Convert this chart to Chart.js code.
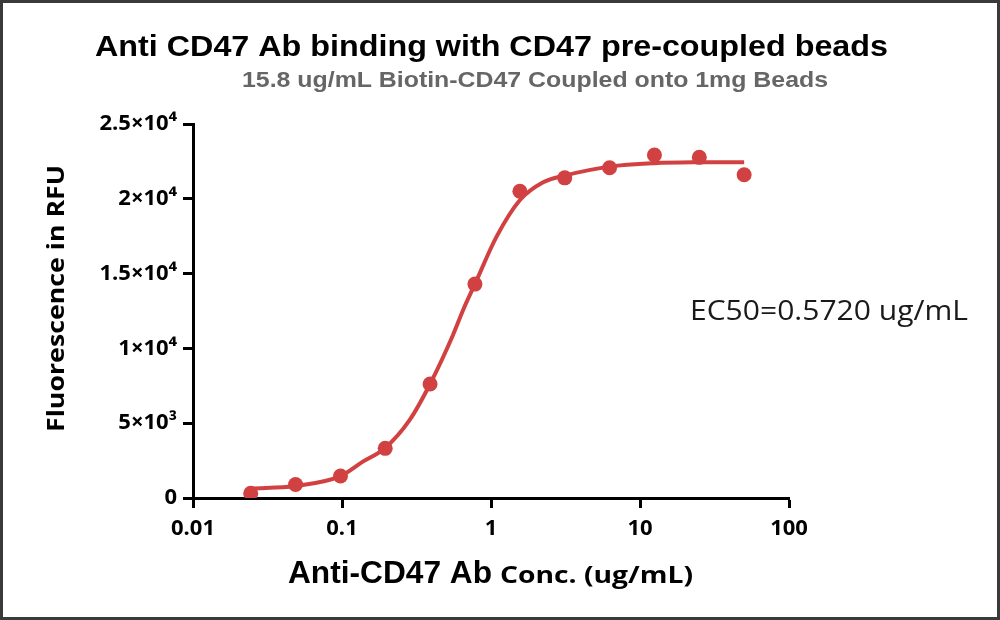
<!DOCTYPE html>
<html>
<head>
<meta charset="utf-8">
<script src="https://cdn.jsdelivr.net/npm/chart.js@4.4.1/dist/chart.umd.min.js"></script>
<style>
  html, body { margin: 0; padding: 0; background: #fff; }
  #wrap { width: 1000px; height: 620px; }
</style>
</head>
<body>
<div id="wrap"><canvas id="chart" width="1000" height="620"></canvas></div>
<script>
// measured points (ug/mL -> RFU)
const conc = [0.0244, 0.0488, 0.0977, 0.195, 0.39, 0.78, 1.5625, 3.125, 6.25, 12.5, 25, 50]
const rfu = [310, 900, 1470, 3320, 7620, 14300, 20500, 21400, 22080, 22930, 22770, 21610]

// fitted curve
const fit_x = [0.0244, 0.0488, 0.0977, 0.138, 0.195, 0.284, 0.39, 0.556, 0.65, 0.78, 1.09, 1.56, 2.24, 3.125, 6.25, 12.5, 25, 50]
const fit_y = [640, 800, 1460, 2430, 3350, 5200, 7620, 10900, 12570, 14300, 17470, 19900, 21100, 21550, 22150, 22380, 22440, 22450]

const x_ticks = [0.01, 0.1, 1, 10, 100]
const x_tick_labels = ["0.01", "0.1", "1", "10", "100"]
const y_ticks = [0, 5000, 10000, 15000, 20000, 25000]
const y_tick_labels = ["0", "5×10³", "1×10⁴", "1.5×10⁴", "2×10⁴", "2.5×10⁴"]

const title = "Anti CD47 Ab binding with CD47 pre-coupled beads"
const subtitle = "15.8 ug/mL Biotin-CD47 Coupled onto 1mg Beads"
const y_title = "Fluorescence in RFU"
const x_title_a = "Anti-CD47 Ab"
const x_title_b = "Conc. (ug/mL)"
const ec50_text = "EC50=0.5720 ug/mL"

const red = "#d24141"

// draw text squeezed/stretched to a given width
const put_text = (ctx, text, font, color, x, y, width, rotate) => {
    ctx.save()
    ctx.font = font
    ctx.fillStyle = color
    ctx.textAlign = "left"
    ctx.textBaseline = "alphabetic"
    const w = ctx.measureText(text).width
    ctx.translate(x, y)
    if (rotate) ctx.rotate(-Math.PI / 2)
    ctx.scale(width / w, 1)
    ctx.fillText(text, 0, 0)
    ctx.restore()
}

const texts = {
    id: "texts",
    beforeDraw: (chart) => {
        const ctx = chart.ctx
        ctx.save()
        ctx.fillStyle = "#fff"
        ctx.fillRect(0, 0, chart.width, chart.height)
        ctx.restore()
    },
    afterDraw: (chart) => {
        const ctx = chart.ctx
        put_text(ctx, title, "bold 29px 'Liberation Sans'", "#000", 95, 56, 793)
        put_text(ctx, subtitle, "bold 22px 'Liberation Sans'", "#666", 242, 87, 586)
        put_text(ctx, y_title, "bold 24px 'Open Sans'", "#000", 64, 432, 267, true)
        put_text(ctx, x_title_a, "bold 31px 'Liberation Sans'", "#000", 288, 583, 204)
        put_text(ctx, x_title_b, "bold 23px 'Open Sans'", "#000", 500, 583, 193)
        put_text(ctx, ec50_text, "28px 'Open Sans'", "#1a1a1a", 690, 320, 278)
        // frame around the picture
        ctx.save()
        ctx.strokeStyle = "#3a3a3a"
        ctx.lineWidth = 3
        ctx.strokeRect(1.5, 1.5, chart.width - 3, chart.height - 3)
        ctx.restore()
    }
}

const ctx1 = document.getElementById("chart").getContext("2d")
const myChart = new Chart(ctx1, {
    type: "scatter",
    data: {
        datasets: [{
                label: "fit",
                data: fit_x.map((x, i) => ({x: x, y: fit_y[i]})),
                showLine: true,
                cubicInterpolationMode: "monotone",
                borderColor: red,
                borderWidth: 4,
                pointRadius: 0,
                order: 2
            },
            {
                label: "data",
                data: conc.map((x, i) => ({x: x, y: rfu[i]})),
                backgroundColor: red,
                borderColor: red,
                pointRadius: 7.5,
                pointBorderWidth: 0,
                order: 1
            }
        ]
    },
    options: {
        responsive: false,
        animation: false,
        layout: {padding: {left: 0, right: 211, top: 124, bottom: 0}},
        plugins: {
            legend: {display: false},
            tooltip: {enabled: false}
        },
        scales: {
            x: {
                type: "logarithmic",
                position: "bottom",
                min: 0.01,
                max: 100,
                afterBuildTicks: (s) => { s.ticks = x_ticks.map(v => ({value: v})) },
                afterFit: (s) => { s.height = 122 },
                ticks: {
                    autoSkip: false,
                    maxRotation: 0,
                    padding: 8,
                    color: "#000",
                    font: {family: "'Open Sans'", size: 22, weight: "bold"},
                    callback: (v) => x_tick_labels[x_ticks.indexOf(v)]
                },
                grid: {drawOnChartArea: false, tickLength: 10, tickWidth: 3, tickColor: "#000"},
                border: {color: "#000", width: 3}
            },
            y: {
                min: 0,
                max: 25000,
                afterBuildTicks: (s) => { s.ticks = y_ticks.map(v => ({value: v})) },
                afterFit: (s) => { s.width = 193 },
                ticks: {
                    padding: 6,
                    color: "#000",
                    font: {family: "'Open Sans'", size: 22, weight: "bold"},
                    callback: (v) => y_tick_labels[y_ticks.indexOf(v)]
                },
                grid: {drawOnChartArea: false, tickLength: 10, tickWidth: 3, tickColor: "#000"},
                border: {color: "#000", width: 3}
            }
        }
    },
    plugins: [texts]
})
</script>
</body>
</html>
